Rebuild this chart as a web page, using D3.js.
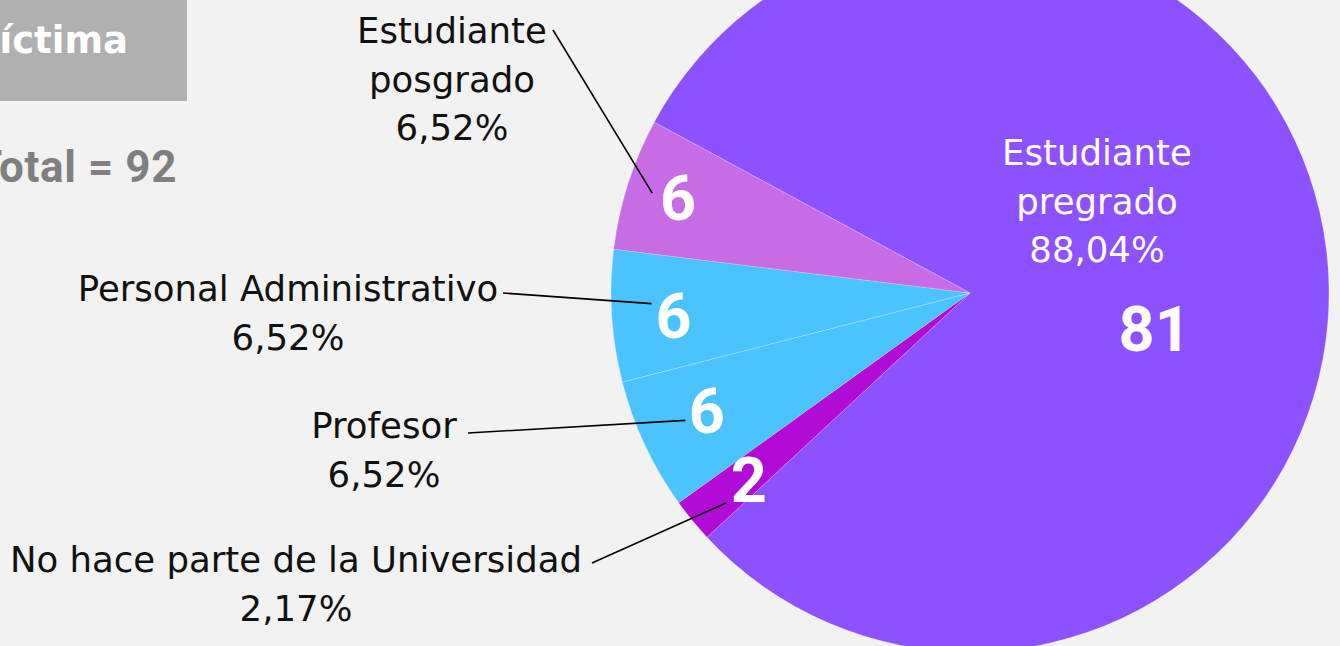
<!DOCTYPE html>
<html>
<head>
<meta charset="utf-8">
<script src="https://cdn.jsdelivr.net/npm/d3@7"></script>
<style>
  html, body { margin: 0; padding: 0; background: #f2f2f2; }
  svg { display: block; }
</style>
</head>
<body>
<div id="chart"></div>
<script>
// data
const categories = ["Estudiante pregrado", "No hace parte de la Universidad", "Profesor", "Personal Administrativo", "Estudiante posgrado"];
const counts = [81, 2, 6, 6, 6];
const percents = ["88,04%", "2,17%", "6,52%", "6,52%", "6,52%"];
const labelLines = [["Estudiante", "pregrado"], ["No hace parte de la Universidad"], ["Profesor"], ["Personal Administrativo"], ["Estudiante", "posgrado"]];
const totalLabel = "Total = 92";
const titleLabel = "Víctima";

const colors = ["#8c52ff", "#b20bd8", "#4bc3ff", "#4bc3ff", "#c76be6"];

const width = 1340, height = 646;
const cx = 970, cy = 293, R = 359;

const svg = d3.select("#chart").append("svg")
  .attr("width", width)
  .attr("height", height);

svg.append("rect").attr("width", width).attr("height", height).attr("fill", "#f2f2f2");

// title box (cut by left edge)
svg.append("rect")
  .attr("x", 0).attr("y", 0)
  .attr("width", 187).attr("height", 101)
  .attr("fill", "#b0b0b0");

svg.append("text")
  .attr("x", 128).attr("y", 53)
  .attr("text-anchor", "end")
  .attr("font-family", "'DejaVu Sans', sans-serif")
  .attr("font-weight", 700)
  .attr("font-size", 37)
  .attr("fill", "#ffffff")
  .text(titleLabel);

svg.append("text")
  .attr("x", 177).attr("y", 182)
  .attr("text-anchor", "end")
  .attr("font-family", "Roboto, sans-serif")
  .attr("font-weight", 700)
  .attr("font-size", 44)
  .attr("letter-spacing", 0.6)
  .attr("fill", "#7f7f7f")
  .text(totalLabel);

const pie = d3.pie()
  .sort(null)
  .startAngle(-61.6 * Math.PI / 180)
  .endAngle(-61.6 * Math.PI / 180 + 2 * Math.PI);

const arcs = pie(counts);
const arc = d3.arc().innerRadius(0).outerRadius(R);

const g = svg.append("g").attr("transform", "translate(" + cx + "," + cy + ")");

g.selectAll("path.slice")
  .data(arcs)
  .enter().append("path")
  .attr("class", "slice")
  .attr("d", arc)
  .attr("fill", function(d, i) { return colors[i]; })
  .attr("stroke", "rgba(255,255,255,0.35)")
  .attr("stroke-width", 0.6);

// value labels, placed along each slice
const numArc = d3.arc().innerRadius(295).outerRadius(295);
const numNudge = [[0, 0], [7, -1], [4, -8], [-2, 3], [-11, -6]];
const pregradoNum = d3.arc().innerRadius(188).outerRadius(188);

g.selectAll("text.num")
  .data(arcs)
  .enter().append("text")
  .attr("class", "num")
  .attr("transform", function(d, i) {
    let p;
    if (i === 0) {
      const a = (90 + 10.7) * Math.PI / 180;
      p = pregradoNum.centroid({ startAngle: a, endAngle: a });
    } else {
      p = numArc.centroid(d);
    }
    return "translate(" + (p[0] + numNudge[i][0]) + "," + (p[1] + numNudge[i][1]) + ")";
  })
  .attr("dy", "0.36em")
  .attr("text-anchor", "middle")
  .attr("font-family", "Roboto, sans-serif")
  .attr("font-weight", 700)
  .attr("font-size", 63)
  .attr("fill", "#ffffff")
  .text(function(d) { return d.data; });

// leader lines: from inside the slice to the outside label
const lineArc = d3.arc().innerRadius(322).outerRadius(322);
const lineNudge = [null, [5, 6], [7, -9], [3, -10], [-11, -2]];
const lineEnds = [null, [592, 563], [468, 433], [503, 293], [553, 30]];

g.selectAll("line.leader")
  .data(arcs.filter(function(d, i) { return lineEnds[i]; }))
  .enter().append("line")
  .attr("class", "leader")
  .attr("x1", function(d) { return lineArc.centroid(d)[0] + lineNudge[d.index][0]; })
  .attr("y1", function(d) { return lineArc.centroid(d)[1] + lineNudge[d.index][1]; })
  .attr("x2", function(d) { return lineEnds[d.index][0] - cx; })
  .attr("y2", function(d) { return lineEnds[d.index][1] - cy; })
  .attr("stroke", "#000")
  .attr("stroke-width", 1.6);

// category labels
const labelPos = [[1097, 165], [296, 572], [384, 438], [288, 301], [452, 43]];
const labelFill = ["#ffffff", "#111", "#111", "#111", "#111"];

categories.forEach(function(c, i) {
  const t = svg.append("text")
    .attr("x", labelPos[i][0])
    .attr("y", labelPos[i][1])
    .attr("text-anchor", "middle")
    .attr("font-family", "'DejaVu Sans', sans-serif")
    .attr("font-size", 35.5)
    .attr("fill", labelFill[i]);
  const lines = labelLines[i].concat([percents[i]]);
  lines.forEach(function(l, k) {
    t.append("tspan")
      .attr("x", labelPos[i][0])
      .attr("dy", k === 0 ? 0 : 48.5)
      .text(l);
  });
});
</script>
</body>
</html>
